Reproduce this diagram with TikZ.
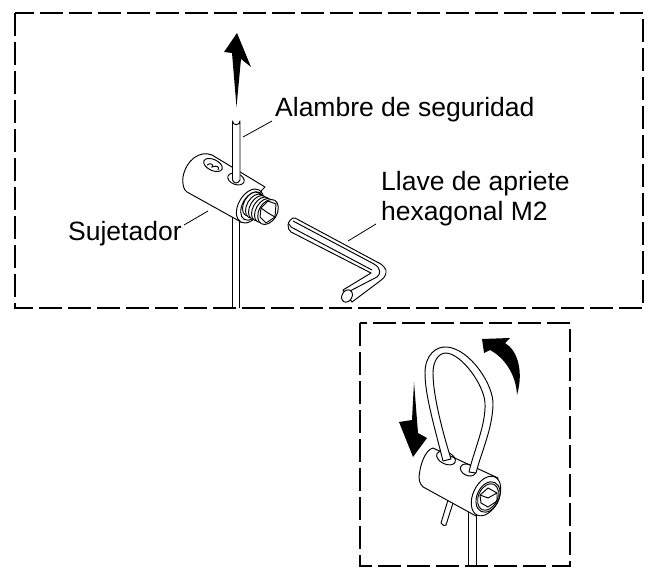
\documentclass[tikz,border=0pt]{standalone}
\usepackage{fontspec}
\setmainfont{Liberation Sans}
\tikzset{
  framebox/.style={draw, line width=2pt, dash pattern=on 23pt off 6pt},
  part/.style={draw, line width=0.95pt, line join=round, fill=white},
  partline/.style={draw, line width=0.95pt},
  bigarrow/.style={fill=black},
  leader/.style={draw, line width=0.8pt},
  caption/.style={inner sep=0pt, font=\fontsize{26.5}{30}\selectfont}
}
\begin{document}
\begin{tikzpicture}[x=1pt,y=-1pt]
  \useasboundingbox (0,0) rectangle (652,569);
  % frames
  \draw[framebox] (15,13) rectangle (643,308);
  \draw[framebox] (360,323) rectangle (570,566);
  % straight wire, upper view
  \draw[partline] (232.5,215) -- (232.5,308);
  \draw[partline] (239.5,215) -- (239.5,308);
  % holder, upper view
  \draw[part] (212,155) .. controls (200,150) and (186,160) .. (183,177)
    .. controls (182,185) and (184,190) .. (187,192) -- (241,222) -- (262,190) -- (265,187) -- cycle;
  \draw[partline] (213,165) ellipse [x radius=10, y radius=5.5, rotate=-25];
  \draw[partline] (207,165) .. controls (211,162) and (214,165) .. (212,167) .. controls (217,165) and (220,167) .. (218,170);
  \draw[partline] (236,179) ellipse [x radius=8.5, y radius=5.5, rotate=-20];
  \draw[part] (232.5,121) arc (180:0:3.75) -- (240,180) .. controls (238,184) and (234,184) .. (232.5,180) -- cycle;
  % screw
  \draw[part] (250,206) ellipse [x radius=11.5, y radius=18.5, rotate=-30];
  \draw[partline] (252,206) ellipse [x radius=9.5, y radius=15.5, rotate=-30];
  \foreach \sx/\sy in {252/204, 255/206, 258/207.5, 261/209, 264/210.5}{
    \draw[part] (\sx,\sy) ellipse [x radius=8, y radius=13, rotate=-30];
  }
  \draw[part] (268,212) ellipse [x radius=9, y radius=13.5, rotate=-30];
  \draw[partline] (261,208) -- (268,201) -- (276,204) -- (275,217) -- (266,223) -- (260,217) -- cycle;
  \draw[partline] (261,208) -- (268,213) -- (275,217);
  % hex key
  \draw[part] (288,225) .. controls (288,222) and (292,217) .. (295,218) -- (377,262)
    .. controls (384,265) and (387,270) .. (386,273) .. controls (385,277) and (383,279) .. (380,281)
    -- (352,302) -- (343,290) -- (371,273) -- (291,232) .. controls (289,231) and (288,228) .. (288,225) -- cycle;
  \draw[partline] (289,224) -- (291,227) -- (372,270);
  \draw[partline] (293,221) -- (374,264) .. controls (381,268) and (381,274) .. (377,277) -- (348,292);
  \draw[part] (347,296) ellipse [x radius=5, y radius=6.5, rotate=-30];
  % pull arrow
  \fill[bigarrow] (237,33) -- (251,67) -- (241,59) -- (236.5,107) -- (232,53) -- (224,52) -- cycle;
  % lower view, wire
  \draw[partline] (468,512) -- (468,566);
  \draw[partline] (476,512) -- (476,566);
  % holder, lower view
  \draw[part] (441,523) .. controls (443,526) and (446,526) .. (446,525) -- (453,503) -- (448,500) -- cycle;
  \draw[part] (433,448) .. controls (425,450) and (420,465) .. (419,477)
    .. controls (419,483) and (422,487) .. (425,488) -- (476,516) -- (498,478) -- cycle;
  \draw[part] (486,496) ellipse [x radius=13, y radius=21, rotate=-25];
  \draw[partline] (488,497) ellipse [x radius=11, y radius=16, rotate=-25];
  \draw[partline] (488,497) ellipse [x radius=9.5, y radius=14, rotate=-25];
  \draw[partline] (480,495) -- (488,488) -- (497,493) -- (497,501) -- (488,507) -- (481,503) -- cycle;
  \draw[partline] (480,495) -- (488,498) -- (497,493);
  \draw[partline] (446,458) ellipse [x radius=10, y radius=6, rotate=-25];
  \draw[partline] (468,470) ellipse [x radius=8, y radius=5.5, rotate=-25];
  % loop
  \draw[part] (443,461) .. controls (434,425) and (425,395) .. (425,373)
    .. controls (425,355) and (436,346) .. (447,347) .. controls (470,349) and (494,385) .. (493,405)
    .. controls (492,430) and (482,450) .. (476,473) -- (469,472)
    .. controls (474,450) and (486,425) .. (485,403) .. controls (484,385) and (462,354) .. (446,353)
    .. controls (438,353) and (433,362) .. (433,373) .. controls (433,395) and (442,430) .. (451,459) -- cycle;
  % arrows, lower view
  \fill[bigarrow] (414,382) -- (418,433) -- (427,438) -- (413,457) -- (399,422) -- (412,420) -- cycle;
  \fill[bigarrow] (482,339) -- (510,338) -- (505,343) .. controls (517,350) and (524,370) .. (517,395)
    .. controls (516,375) and (505,358) .. (490,350) -- (484,353) -- cycle;
  % labels
  \node[caption, anchor=base west] (wirelabel) at (275,117) {Alambre de seguridad};
  \node[caption, anchor=base west] (keylabel) at (381,191) {Llave de apriete};
  \node[caption, anchor=base west] (keylabelb) at (381,220.5) {hexagonal M2};
  \node[caption, anchor=base west] (holderlabel) at (68,240) {Sujetador};
  % leaders
  \coordinate (wirestart) at (272,121);
  \coordinate (wireend) at (243,137);
  \coordinate (keystart) at (376,224);
  \coordinate (keyend) at (348,241);
  \coordinate (holderstart) at (184,225);
  \coordinate (holderend) at (208,211);
  \draw[leader] (wirestart) -- (wireend);
  \draw[leader] (keystart) -- (keyend);
  \draw[leader] (holderstart) -- (holderend);
\end{tikzpicture}
\end{document}
